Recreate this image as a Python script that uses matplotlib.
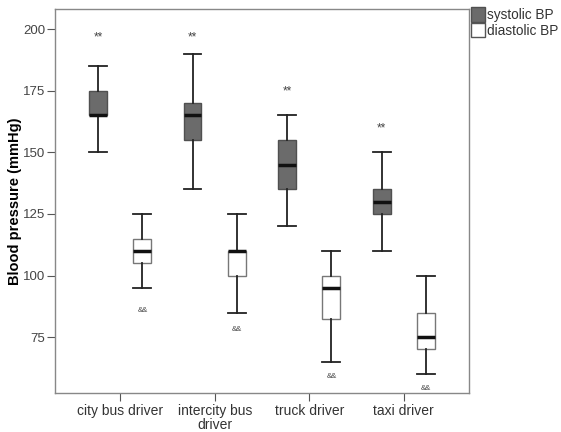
import matplotlib.pyplot as plt
from matplotlib.patches import Patch

plt.rcParams['font.family'] = ['Liberation Sans', 'DejaVu Sans']

groups = ["city bus driver", "intercity bus\ndriver", "truck driver", "taxi driver"]

# systolic: whisker low, Q1, median, Q3, whisker high
sys_wlo = [150, 135, 120, 110]
sys_q1 = [165, 155, 135, 125]
sys_med = [165, 165, 145, 130]
sys_q3 = [175, 170, 155, 135]
sys_whi = [185, 190, 165, 150]

# diastolic
dia_wlo = [95, 85, 65, 60]
dia_q1 = [105, 100, 82.5, 70]
dia_med = [110, 110, 95, 75]
dia_q3 = [115, 110, 100, 85]
dia_whi = [125, 125, 110, 100]

# significance marks
star_y = [196.5, 196.5, 174.5, 159.5]
amp_y = [86, 78, 59, 54]


def make_stats(wlo, q1, med, q3, whi):
    stats = []
    for i in range(len(med)):
        stats.append({"whislo": wlo[i], "q1": q1[i], "med": med[i],
                      "q3": q3[i], "whishi": whi[i], "fliers": []})
    return stats


fig = plt.figure(figsize=(5.61, 4.32), dpi=100)
ax = fig.add_axes([0.098, 0.09, 0.738, 0.889])

off = 0.235
w = 0.19
pos = list(range(len(groups)))
sys_pos = [p - off for p in pos]
dia_pos = [p + off for p in pos]

ax.bxp(make_stats(sys_wlo, sys_q1, sys_med, sys_q3, sys_whi), positions=sys_pos,
       widths=w, patch_artist=True, showfliers=False,
       boxprops=dict(facecolor="#6b6b6b", edgecolor="#505050", linewidth=1.0),
       whiskerprops=dict(color="#222222", linewidth=1.3),
       capprops=dict(color="#222222", linewidth=1.3),
       medianprops=dict(color="#111111", linewidth=2.5),
       capwidths=w)
ax.bxp(make_stats(dia_wlo, dia_q1, dia_med, dia_q3, dia_whi), positions=dia_pos,
       widths=w, patch_artist=True, showfliers=False,
       boxprops=dict(facecolor="white", edgecolor="#777777", linewidth=1.0),
       whiskerprops=dict(color="#222222", linewidth=1.3),
       capprops=dict(color="#222222", linewidth=1.3),
       medianprops=dict(color="#111111", linewidth=2.5),
       capwidths=w)

for i in range(len(groups)):
    ax.text(sys_pos[i], star_y[i], "**", ha="center", va="center", fontsize=8.5, color="#444444")
    ax.text(dia_pos[i], amp_y[i], "&&", ha="center", va="center", fontsize=5.5, color="#444444")

ax.set_xlim(-0.69, 3.69)
ax.set_ylim(52.3, 208.1)
ax.set_yticks([75, 100, 125, 150, 175, 200])
ax.set_xticks(pos)
ax.set_xticklabels(groups, fontsize=10, color="#333333", linespacing=0.95)
ax.tick_params(axis="y", labelsize=9.5, labelcolor="#444444", color="#555555", length=6, pad=1)
ax.tick_params(axis="x", color="#555555", length=6, pad=2)
for s in ax.spines.values():
    s.set_color("#888888")
    s.set_linewidth(1.0)
ax.set_ylabel("Blood pressure (mmHg)", fontsize=10.5, fontweight="bold")
ax.yaxis.set_label_coords(-0.08, 0.5)

handles = [Patch(facecolor="#6b6b6b", edgecolor="#505050", label="systolic BP"),
           Patch(facecolor="white", edgecolor="#555555", label="diastolic BP")]
ax.legend(handles=handles, loc="upper left", bbox_to_anchor=(1.0, 1.01), frameon=False,
          fontsize=9.8, handlelength=1.0, handleheight=1.25, handletextpad=0.15,
          labelspacing=0.05, borderaxespad=0.05, borderpad=0.1, labelcolor="#333333")

plt.savefig("out.png", dpi=100)
